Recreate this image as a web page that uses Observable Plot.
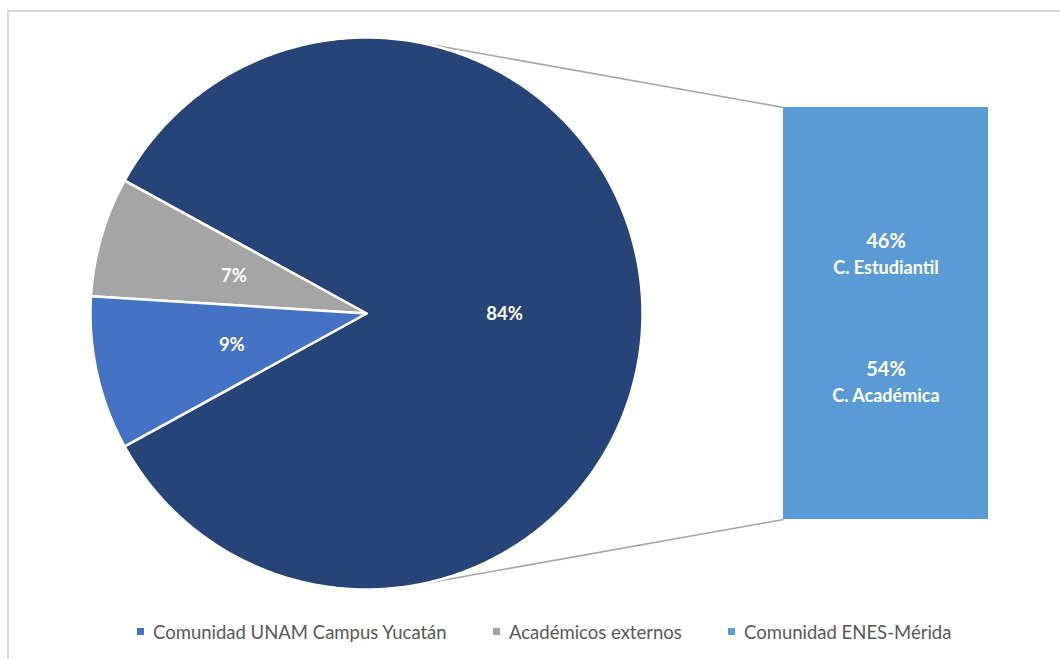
<!DOCTYPE html>
<html>
<head>
<meta charset="utf-8">
<script src="https://cdn.jsdelivr.net/npm/d3@7"></script>
<script src="https://cdn.jsdelivr.net/npm/@observablehq/plot@0.6"></script>
<style>
  html, body { margin: 0; padding: 0; background: #fff; width: 1060px; height: 659px; overflow: hidden; }
  #frame { position: absolute; left: 7px; top: 10px; width: 1200px; height: 800px; border: 2px solid #d9d9d9; box-sizing: border-box; }
  #chart { position: absolute; left: 0; top: 0; }
  #legend { position: absolute; left: 0; top: 620px; width: 1060px; height: 30px; font-family: "Lato", "Liberation Sans", sans-serif; font-size: 18.5px; color: #595959; }
  .item { position: absolute; top: 0; white-space: nowrap; }
  .sw { position: absolute; top: 8px; width: 7px; height: 7px; }
  .lt { position: absolute; top: 0; left: 16px; line-height: 24px; }
</style>
</head>
<body>
<div id="frame"></div>
<div id="chart"></div>
<div id="legend"></div>
<script>
// ---- data ----
const sliceNames = ["Comunidad ENES-Mérida", "Académicos externos", "Comunidad UNAM Campus Yucatán"];
const sliceValues = [84, 7, 9];
const sliceColors = ["#264478", "#A5A5A5", "#4472C4"];

const barNames = ["C. Estudiantil", "C. Académica"];
const barValues = [46, 54];
const barColor = "#5B9BD5";

const legendNames = ["Comunidad UNAM Campus Yucatán", "Académicos externos", "Comunidad ENES-Mérida"];
const legendColors = ["#4472C4", "#A5A5A5", "#5B9BD5"];

// ---- layout (unit = pie radius) ----
const W = 1060, H = 600;
const cx = 366, cy = 313, R = 276;
const barX1 = (783 - cx) / R, barX2 = (988 - cx) / R;
const barTop = (cy - 107) / R, barBot = (cy - 519) / R;
const barLabelFrac = [0.357, 0.667];

// pie geometry from values
const total = d3.sum(sliceValues);
const firstSpan = sliceValues[0] / total * 2 * Math.PI;
let a = -firstSpan / 2;
const polys = [];
const labels = [];
sliceValues.forEach((v, i) => {
  const span = v / total * 2 * Math.PI;
  const a0 = a, a1 = a + span;
  const n = Math.max(2, Math.ceil(span / (Math.PI / 360)));
  polys.push({name: sliceNames[i], x: 0, y: 0});
  for (let k = 0; k <= n; k++) {
    const t = a0 + span * k / n;
    polys.push({name: sliceNames[i], x: Math.cos(t), y: Math.sin(t)});
  }
  polys.push({name: sliceNames[i], x: 0, y: 0});
  const m = (a0 + a1) / 2;
  labels.push({x: 0.5 * Math.cos(m), y: 0.5 * Math.sin(m), text: Math.round(v / total * 100) + "%"});
  a = a1;
});

// bar segments (stacked)
const barTotal = d3.sum(barValues);
const barH = barTop - barBot;
let acc = 0;
const segs = barValues.map((v, i) => {
  const y1 = barTop - barH * acc / barTotal;
  acc += v;
  const y2 = barTop - barH * acc / barTotal;
  const ly = barTop - barH * barLabelFrac[i];
  return {name: barNames[i], value: v, y1, y2, ly, pct: Math.round(v / barTotal * 100) + "%"};
});
const barExtent = [{y1: segs[0].y1, y2: segs[segs.length - 1].y2}];

// connector tangent lines from bar corners to the pie circle
function tangent(px, py, upper) {
  const d = Math.hypot(px, py), th = Math.atan2(py, px), off = Math.acos(1 / d);
  const t = upper ? th + off : th - off;
  return {x1: Math.cos(t), y1: Math.sin(t), x2: px, y2: py};
}
const connectors = [tangent(barX1, barTop, true), tangent(barX1, barBot, false)];

const font = "Lato, 'Liberation Sans', sans-serif";
const chart = Plot.plot({
  width: W, height: H,
  margin: 0,
  x: {domain: [-cx / R, (W - cx) / R], axis: null},
  y: {domain: [(cy - H) / R, cy / R], axis: null},
  color: {domain: sliceNames, range: sliceColors},
  style: {fontFamily: font, background: "transparent"},
  marks: [
    Plot.link(connectors, {x1: "x1", y1: "y1", x2: "x2", y2: "y2", stroke: "#A6A6A6", strokeWidth: 1.6}),
    Plot.line(polys, {x: "x", y: "y", z: "name", fill: "name", stroke: "#ffffff", strokeWidth: 2.5, strokeLinejoin: "round", curve: "linear"}),
    Plot.text(labels, {x: "x", y: "y", text: "text", fill: "#ffffff", fontSize: 18.5, fontWeight: "bold", dy: 1}),
    Plot.rect(barExtent, {x1: () => barX1, x2: () => barX2, y1: "y1", y2: "y2", fill: barColor}),
    Plot.rect(segs, {x1: () => barX1, x2: () => barX2, y1: "y1", y2: "y2", fill: barColor}),
    Plot.text(segs, {x: () => (barX1 + barX2) / 2, y: "ly", text: "pct", fill: "#ffffff", fontSize: 20, fontWeight: "bold", dy: -13}),
    Plot.text(segs, {x: () => (barX1 + barX2) / 2, y: "ly", text: "name", fill: "#ffffff", fontSize: 18, fontWeight: "bold", dy: 14})
  ]
});
document.getElementById("chart").appendChild(chart);

// legend
const lg = document.getElementById("legend");
const lx = [137, 493, 728];
legendNames.forEach((n, i) => {
  const it = document.createElement("div");
  it.className = "item";
  it.style.left = lx[i] + "px";
  const sw = document.createElement("div");
  sw.className = "sw";
  sw.style.background = legendColors[i];
  const t = document.createElement("div");
  t.className = "lt";
  t.textContent = n;
  it.appendChild(sw); it.appendChild(t);
  lg.appendChild(it);
});
</script>
</body>
</html>
